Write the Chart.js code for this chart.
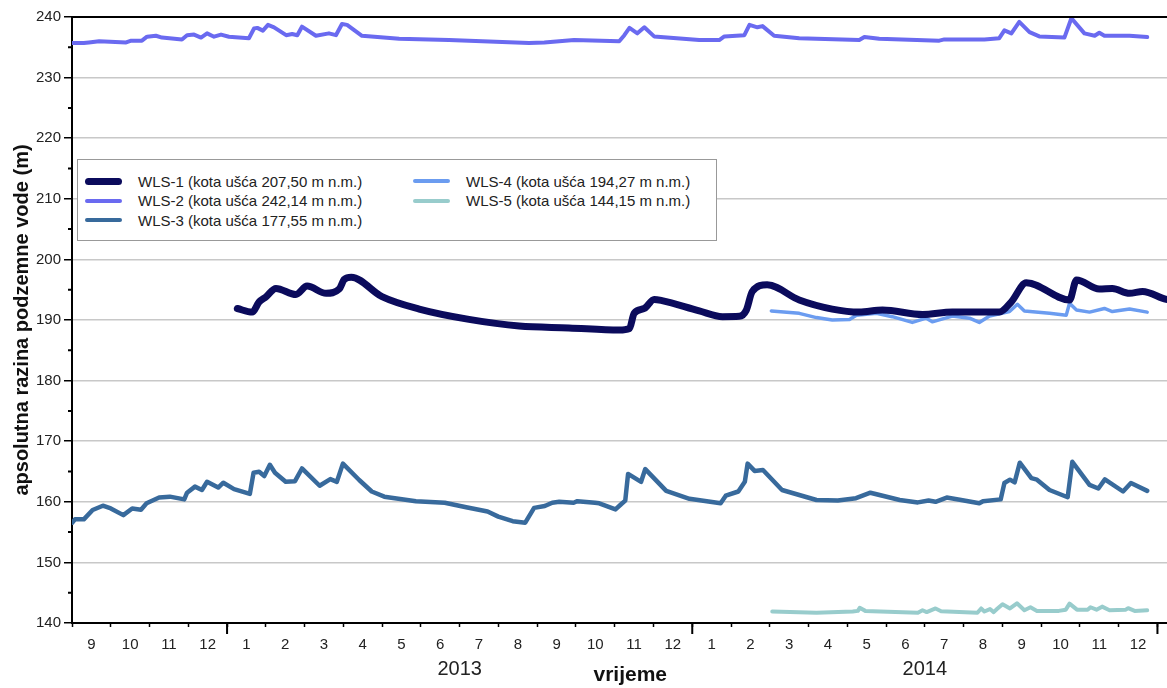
<!DOCTYPE html>
<html lang="hr">
<head>
<meta charset="utf-8">
<title>Razina podzemne vode</title>
<script src="https://cdn.jsdelivr.net/npm/chart.js@4"></script>
<style>
  html, body { margin: 0; padding: 0; background: #fff; overflow: hidden; }
  #okvir { position: relative; width: 1167px; height: 688px; overflow: hidden; }
  #graf { position: absolute; left: 0; top: 0; }
  #legenda {
    position: absolute; left: 77px; top: 159px; width: 638px; height: 80px;
    border: 1px solid #999; background: #fff;
    font: 15px "Liberation Sans", Arial, sans-serif; color: #222;
  }
  .stavka { position: absolute; height: 20px; display: flex; align-items: center; white-space: nowrap; }
  .uzorak { display: inline-block; width: 37px; border-radius: 4px; margin-right: 16px; }
</style>
</head>
<body>
<div id="okvir">
  <canvas id="graf" width="1190" height="688"></canvas>
  <div id="legenda"></div>
</div>
<script>
// x = decimalna godina, y = razina (m n.m.)
const xMin = 2012 + 8 / 12;
const xMax = 2015 + 0.8 / 12;
const mjeseci = ['1', '2', '3', '4', '5', '6', '7', '8', '9', '10', '11', '12'];
const godine = ['2013', '2014'];

const nazivi = [
    'WLS-1 (kota ušća 207,50 m n.m.)',
    'WLS-2 (kota ušća 242,14 m n.m.)',
    'WLS-3 (kota ušća 177,55 m n.m.)',
    'WLS-4 (kota ušća 194,27 m n.m.)',
    'WLS-5 (kota ušća 144,15 m n.m.)'
];

const wls1 = [
    [2013.022, 191.9], [2013.054, 191.3], [2013.069, 193.0], [2013.084, 193.85], [2013.105, 195.2],
    [2013.148, 194.2], [2013.172, 195.6], [2013.213, 194.4], [2013.241, 195.1], [2013.252, 196.7],
    [2013.267, 197.05], [2013.333, 193.85], [2013.413, 191.8], [2013.520, 190.1], [2013.628, 189.0],
    [2013.735, 188.7], [2013.843, 188.35], [2013.865, 188.6], [2013.875, 191.1], [2013.897, 191.9],
    [2013.918, 193.4], [2013.935, 193.2], [2014.015, 191.5], [2014.065, 190.55], [2014.101, 190.6],
    [2014.116, 191.6], [2014.129, 194.7], [2014.161, 195.8], [2014.230, 193.3], [2014.301, 191.8],
    [2014.359, 191.3], [2014.409, 191.65], [2014.495, 190.9], [2014.559, 191.3], [2014.660, 191.3],
    [2014.686, 193.0], [2014.718, 196.15], [2014.811, 193.3], [2014.826, 196.6], [2014.875, 195.1],
    [2014.903, 195.2], [2014.940, 194.4], [2014.968, 194.7], [2015.019, 193.4], [2015.066, 192.9]
];

const wls2 = [
    [2012.667, 235.7], [2012.692, 235.7], [2012.703, 235.8], [2012.725, 236.0], [2012.783, 235.8],
    [2012.794, 236.1], [2012.817, 236.1], [2012.828, 236.75], [2012.847, 236.9], [2012.860, 236.6],
    [2012.903, 236.3], [2012.914, 237.0], [2012.929, 237.1], [2012.944, 236.6], [2012.957, 237.3],
    [2012.972, 236.75], [2012.987, 237.1], [2013.004, 236.75], [2013.047, 236.5], [2013.058, 238.1],
    [2013.065, 238.2], [2013.077, 237.75], [2013.088, 238.7], [2013.101, 238.3], [2013.127, 237.0],
    [2013.140, 237.2], [2013.151, 237.0], [2013.161, 238.4], [2013.191, 236.9], [2013.219, 237.3],
    [2013.234, 237.0], [2013.247, 238.85], [2013.258, 238.7], [2013.290, 236.9], [2013.370, 236.4],
    [2013.477, 236.2], [2013.649, 235.7], [2013.682, 235.8], [2013.714, 236.0], [2013.746, 236.2],
    [2013.843, 236.0], [2013.854, 237.0], [2013.865, 238.2], [2013.882, 237.3], [2013.897, 238.3],
    [2013.918, 236.8], [2014.015, 236.2], [2014.058, 236.2], [2014.069, 236.8], [2014.112, 237.0],
    [2014.123, 238.7], [2014.140, 238.3], [2014.151, 238.5], [2014.176, 236.9], [2014.230, 236.5],
    [2014.359, 236.2], [2014.370, 236.7], [2014.402, 236.4], [2014.531, 236.1], [2014.542, 236.3],
    [2014.628, 236.3], [2014.660, 236.5], [2014.671, 237.8], [2014.686, 237.3], [2014.703, 239.2],
    [2014.725, 237.5], [2014.746, 236.8], [2014.800, 236.6], [2014.815, 239.8], [2014.843, 237.3],
    [2014.865, 236.9], [2014.875, 237.4], [2014.886, 236.9], [2014.940, 236.9], [2014.978, 236.7]
];

const wls3 = [
    [2012.667, 156.55], [2012.673, 157.1], [2012.692, 157.1], [2012.711, 158.65], [2012.733, 159.35],
    [2012.750, 158.9], [2012.777, 157.8], [2012.796, 158.9], [2012.815, 158.7], [2012.827, 159.75],
    [2012.854, 160.7], [2012.877, 160.85], [2012.908, 160.4], [2012.914, 161.5], [2012.931, 162.5],
    [2012.946, 161.95], [2012.957, 163.3], [2012.981, 162.35], [2012.992, 163.15], [2013.015, 162.1],
    [2013.049, 161.3], [2013.057, 164.8], [2013.069, 164.97], [2013.080, 164.25], [2013.092, 166.1],
    [2013.103, 164.8], [2013.126, 163.3], [2013.146, 163.4], [2013.161, 165.5], [2013.199, 162.65],
    [2013.222, 163.75], [2013.236, 163.3], [2013.249, 166.3], [2013.284, 163.6], [2013.311, 161.7],
    [2013.338, 160.85], [2013.406, 160.1], [2013.468, 159.85], [2013.514, 159.1], [2013.560, 158.4],
    [2013.583, 157.55], [2013.614, 156.8], [2013.641, 156.55], [2013.660, 159.0], [2013.683, 159.3],
    [2013.699, 159.85], [2013.714, 160.0], [2013.745, 159.85], [2013.753, 160.1], [2013.791, 159.85],
    [2013.800, 159.75], [2013.835, 158.75], [2013.847, 159.6], [2013.856, 160.2], [2013.862, 164.6],
    [2013.890, 163.3], [2013.899, 165.4], [2013.944, 161.8], [2013.994, 160.5], [2014.061, 159.75],
    [2014.072, 161.0], [2014.099, 161.7], [2014.113, 163.3], [2014.119, 166.3], [2014.134, 165.1],
    [2014.152, 165.25], [2014.193, 161.95], [2014.267, 160.3], [2014.313, 160.2], [2014.352, 160.6],
    [2014.383, 161.5], [2014.446, 160.3], [2014.485, 159.9], [2014.508, 160.2], [2014.523, 160.0],
    [2014.547, 160.7], [2014.578, 160.3], [2014.617, 159.75], [2014.625, 160.1], [2014.663, 160.4],
    [2014.671, 163.1], [2014.683, 163.65], [2014.693, 163.2], [2014.704, 166.45], [2014.729, 163.9],
    [2014.741, 163.65], [2014.768, 161.95], [2014.807, 160.75], [2014.817, 166.6], [2014.854, 162.8],
    [2014.873, 162.2], [2014.887, 163.7], [2014.926, 161.7], [2014.943, 163.1], [2014.978, 161.8]
];

const wls4 = [
    [2014.170, 191.5], [2014.230, 191.1], [2014.267, 190.4], [2014.301, 190.0], [2014.338, 190.1],
    [2014.353, 190.8], [2014.396, 191.1], [2014.430, 190.55], [2014.473, 189.6], [2014.503, 190.3],
    [2014.516, 189.7], [2014.559, 190.65], [2014.596, 190.3], [2014.617, 189.6], [2014.639, 190.65],
    [2014.682, 191.4], [2014.699, 192.6], [2014.714, 191.5], [2014.768, 191.1], [2014.804, 190.8],
    [2014.811, 192.75], [2014.826, 191.65], [2014.854, 191.3], [2014.886, 191.9], [2014.903, 191.4],
    [2014.940, 191.8], [2014.978, 191.3]
];

const wls5 = [
    [2014.172, 141.9], [2014.267, 141.7], [2014.345, 141.9], [2014.356, 142.0], [2014.360, 142.5],
    [2014.372, 142.0], [2014.485, 141.7], [2014.495, 142.1], [2014.504, 141.8], [2014.523, 142.4],
    [2014.535, 141.95], [2014.613, 141.7], [2014.621, 142.4], [2014.628, 141.9], [2014.640, 142.3],
    [2014.648, 141.8], [2014.655, 142.3], [2014.667, 143.1], [2014.683, 142.4], [2014.698, 143.25],
    [2014.714, 142.1], [2014.727, 142.6], [2014.741, 142.0], [2014.788, 142.0], [2014.803, 142.2],
    [2014.811, 143.2], [2014.827, 142.2], [2014.850, 142.2], [2014.856, 142.6], [2014.869, 142.2],
    [2014.881, 142.7], [2014.897, 142.1], [2014.932, 142.2], [2014.937, 142.45], [2014.951, 142.0],
    [2014.978, 142.1]
];

const serije = [wls1, wls2, wls3, wls4, wls5];
const boje = ['#0b0b5c', '#6a6af0', '#386a9c', '#6b9cf0', '#98cccc'];
const debljine = [7, 4, 4.5, 3.5, 4];

Chart.defaults.font.family = '"Liberation Sans", Arial, sans-serif';
Chart.defaults.color = '#222';

// kratke kvačice (y svakih 5) i duge kvačice na granicama godina + gornji rub
const kvacice = {
    id: 'kvacice',
    afterDatasetsDraw(chart) {
        const { ctx, chartArea: a, scales } = chart;
        ctx.save();
        ctx.strokeStyle = '#000';
        ctx.lineWidth = 2;
        ctx.beginPath();
        ctx.moveTo(a.left - 1, a.top);
        ctx.lineTo(a.right, a.top);
        for (let v = 145; v < 240; v += 10) {
            const py = scales.y.getPixelForValue(v);
            ctx.moveTo(a.left - 4, py);
            ctx.lineTo(a.left, py);
        }
        for (let g = 2013; g <= 2015; g++) {
            const px = scales.x.getPixelForValue(g);
            ctx.moveTo(px, a.bottom);
            ctx.lineTo(px, a.bottom + 11);
        }
        ctx.stroke();
        ctx.restore();
    }
};

const chart = new Chart(document.getElementById('graf'), {
    type: 'line',
    data: {
        datasets: serije.map((s, i) => ({
            label: nazivi[i],
            data: s.map(([x, y]) => ({ x, y })),
            borderColor: boje[i],
            backgroundColor: boje[i],
            borderWidth: debljine[i],
            cubicInterpolationMode: i === 0 ? 'monotone' : 'default',
            tension: 0
        }))
    },
    options: {
        responsive: false,
        animation: false,
        devicePixelRatio: 1,
        layout: { padding: { top: 17, left: 0, right: 0, bottom: 0 } },
        elements: {
            point: { radius: 0 },
            line: { borderCapStyle: 'round', borderJoinStyle: 'round' }
        },
        plugins: {
            legend: { display: false },
            tooltip: { enabled: false }
        },
        scales: {
            x: {
                type: 'linear',
                position: 'bottom',
                min: xMin,
                max: xMax,
                afterBuildTicks: s => {
                    const t = [];
                    for (let k = 16; 2012 + k / 24 <= xMax + 1e-9; k++) t.push({ value: 2012 + k / 24 });
                    s.ticks = t;
                },
                afterFit: s => { s.height = 30; },
                grid: {
                    drawOnChartArea: false,
                    tickLength: 4,
                    tickWidth: 1.5,
                    tickColor: c => Math.round((c.tick.value - 2012) * 24) % 2 === 0 ? '#000' : 'rgba(0,0,0,0)'
                },
                border: { color: '#000', width: 2 },
                ticks: {
                    autoSkip: false,
                    maxRotation: 0,
                    padding: 9,
                    font: { size: 15 },
                    callback: v => {
                        const k = Math.round((v - 2012) * 24);
                        return k % 2 ? mjeseci[((k - 1) / 2) % 12] : '';
                    }
                }
            },
            xGodina: {
                type: 'linear',
                position: 'bottom',
                weight: 1,
                min: xMin,
                max: xMax,
                afterBuildTicks: s => { s.ticks = godine.map(g => ({ value: Number(g) + 0.5 })); },
                afterFit: s => { s.height = 35; },
                grid: { display: false, drawTicks: false },
                border: { display: false },
                ticks: {
                    autoSkip: false,
                    maxRotation: 0,
                    padding: 4,
                    font: { size: 20 },
                    callback: v => godine[Math.floor(v) - 2013]
                },
                title: {
                    display: true,
                    text: 'vrijeme',
                    color: '#111',
                    font: { size: 21, weight: 'bold' },
                    padding: { top: 0, bottom: 0 }
                }
            },
            y: {
                min: 140,
                max: 240,
                afterBuildTicks: s => {
                    const t = [];
                    for (let v = 140; v <= 240; v += 5) t.push({ value: v });
                    s.ticks = t;
                },
                afterFit: s => { s.width = 72; },
                grid: {
                    color: c => (c.tick.value % 10 === 0 && c.tick.value > 140 && c.tick.value < 240) ? '#c8c8c8' : 'rgba(0,0,0,0)',
                    lineWidth: 1.5,
                    tickLength: 8,
                    tickWidth: 1.5,
                    tickColor: c => c.tick.value % 10 === 0 ? '#000' : 'rgba(0,0,0,0)'
                },
                border: { color: '#000', width: 2 },
                ticks: {
                    padding: 3,
                    font: { size: 15 },
                    callback: v => v % 10 === 0 ? v : ''
                },
                title: {
                    display: true,
                    text: 'apsolutna razina podzemne vode (m)',
                    color: '#111',
                    font: { size: 20, weight: 'bold' },
                    padding: { top: 10, bottom: 0 }
                }
            }
        }
    },
    plugins: [kvacice]
});

// legenda u dva stupca (3 + 2 stavke)
const legenda = document.getElementById('legenda');
chart.data.datasets.forEach((ds, i) => {
    const stupac = i < 3 ? 0 : 1;
    const red = i < 3 ? i : i - 3;
    const el = document.createElement('div');
    el.className = 'stavka';
    el.style.left = (stupac ? 335 : 7) + 'px';
    el.style.top = (11 + red * 19.5) + 'px';
    el.innerHTML = '<span class="uzorak" style="background:' + ds.borderColor +
        ';height:' + ds.borderWidth + 'px"></span><span>' + ds.label + '</span>';
    legenda.appendChild(el);
});
</script>
</body>
</html>
